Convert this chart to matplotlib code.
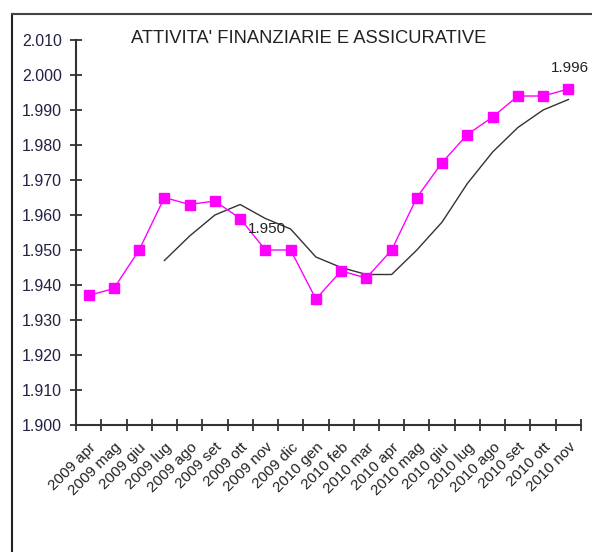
import matplotlib
matplotlib.use("Agg")
import matplotlib.pyplot as plt
from matplotlib.lines import Line2D
import numpy as np

plt.rcParams['font.family'] = ['Liberation Sans', 'DejaVu Sans']

# dati
months = ['2009 apr', '2009 mag', '2009 giu', '2009 lug', '2009 ago', '2009 set',
          '2009 ott', '2009 nov', '2009 dic', '2010 gen', '2010 feb', '2010 mar',
          '2010 apr', '2010 mag', '2010 giu', '2010 lug', '2010 ago', '2010 set',
          '2010 ott', '2010 nov']
valori = [1.937, 1.939, 1.950, 1.965, 1.963, 1.964, 1.959, 1.950, 1.950, 1.936,
          1.944, 1.942, 1.950, 1.965, 1.975, 1.983, 1.988, 1.994, 1.994, 1.996]
# media mobile (parte da 2009 lug)
media = [None, None, None, 1.947, 1.954, 1.960, 1.963, 1.959, 1.956, 1.948,
         1.945, 1.943, 1.943, 1.950, 1.958, 1.969, 1.978, 1.985, 1.990, 1.993]
etichette = {7: '1.950', 19: '1.996'}
yticks = [1.900, 1.910, 1.920, 1.930, 1.940, 1.950, 1.960, 1.970, 1.980, 1.990, 2.000, 2.010]
titolo = "ATTIVITA' FINANZIARIE E ASSICURATIVE"

fig = plt.figure(figsize=(5.92, 5.52), dpi=100)
ax = fig.add_axes([0.1284, 0.2301, 0.9814 - 0.1284, 0.9275 - 0.2301])

x = np.arange(len(months)) + 0.5
m = np.array([np.nan if v is None else v for v in media])
ax.plot(x, m, color='#333333', lw=1.0)
ax.plot(x, valori, color='#ff00ff', lw=1.0, marker='s', markersize=7.5,
        markerfacecolor='#ff00ff', markeredgecolor='#ff00ff')

for i, txt in etichette.items():
    ax.annotate(txt, (x[i], valori[i]), xytext=(1, 10), textcoords='offset points',
                ha='center', va='bottom', fontsize=11, color='#222222')

ax.set_xlim(0, len(months))
ax.set_ylim(1.900, 2.010)
ax.set_yticks(yticks)
ax.set_yticklabels(['%.3f' % v for v in yticks], fontsize=11.5, color='#222244')
ax.set_xticks(np.arange(len(months) + 1))
ax.set_xticklabels([])
ax.set_xticks(x, minor=True)
ax.set_xticklabels(months, minor=True, rotation=45, ha='right', rotation_mode='anchor',
                   fontsize=11, color='#222222')
ax.tick_params(axis='x', which='minor', length=0, pad=11)
ax.tick_params(axis='both', which='major', direction='inout', length=8, width=1.3,
               color='#333333')
ax.tick_params(axis='y', pad=6)

for s in ['top', 'right']:
    ax.spines[s].set_visible(False)
for s in ['left', 'bottom']:
    ax.spines[s].set_color('#333333')
    ax.spines[s].set_linewidth(1.5)

fig.text(0.522, 0.931, titolo, ha='center', va='center', fontsize=13.2, color='#222222')

# bordo esterno
fig.add_artist(Line2D([12 / 592, 12 / 592], [0, 1 - 14 / 552], color='#222222', lw=1.5))
fig.add_artist(Line2D([12 / 592, 1], [1 - 14 / 552, 1 - 14 / 552], color='#444444', lw=1.5))

fig.savefig('out.png', dpi=100)
